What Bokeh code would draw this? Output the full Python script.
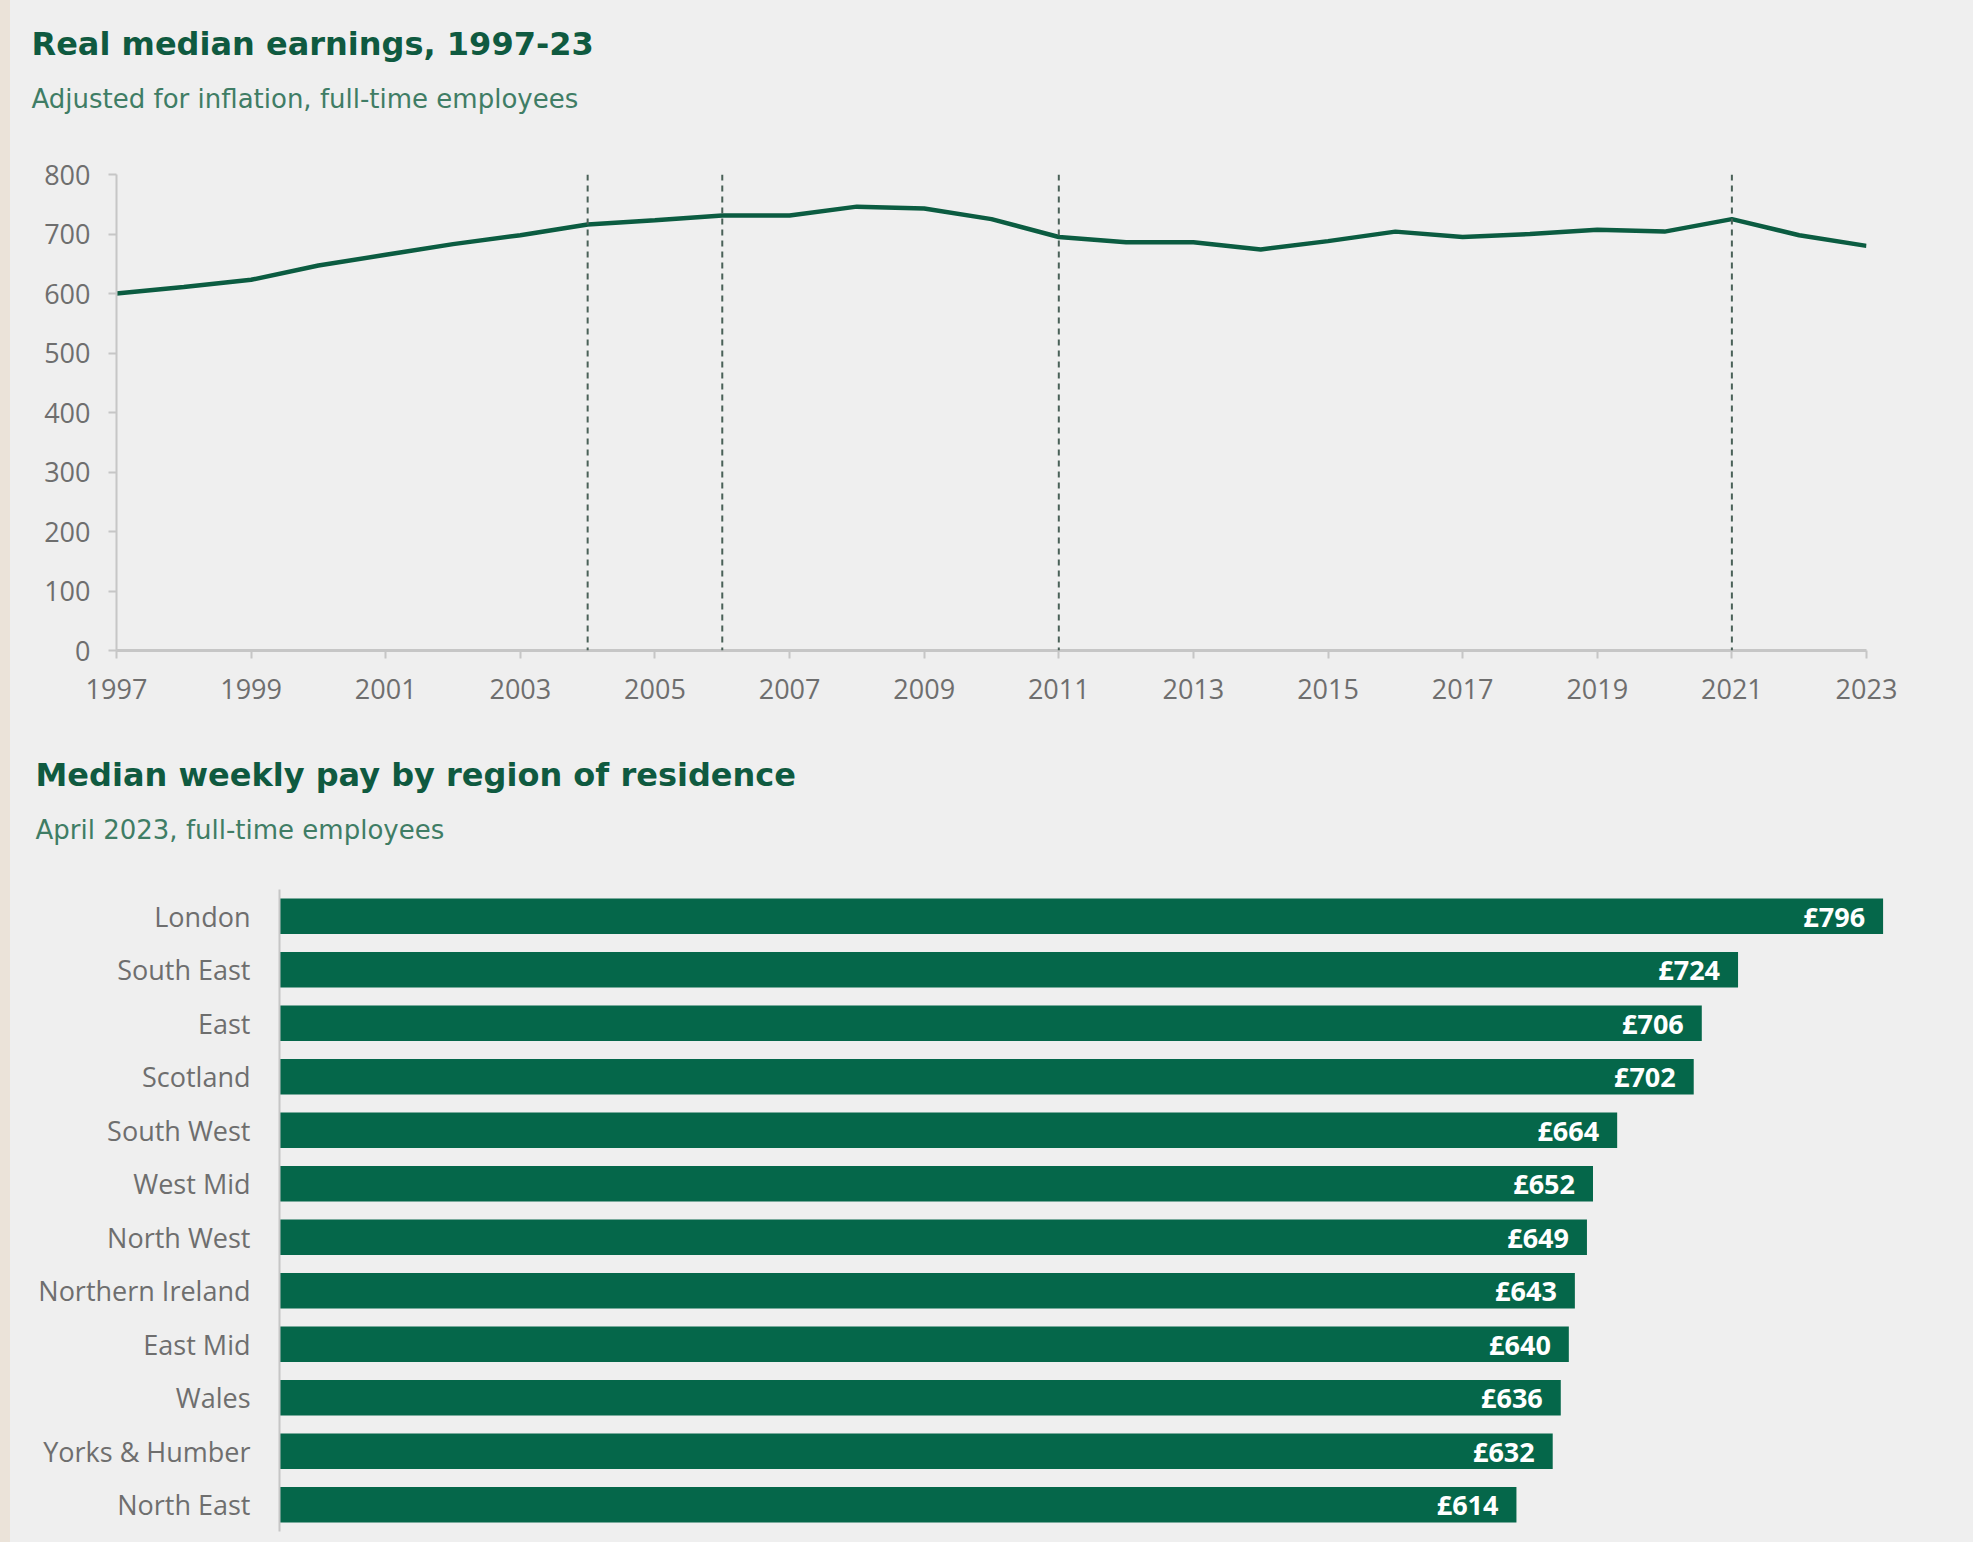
from bokeh.plotting import figure
from bokeh.layouts import column
from bokeh.models import Range1d, FactorRange, FixedTicker, Label, Span
from bokeh.embed import file_html
from bokeh.resources import INLINE
from bokeh.core.properties import value

# ---------------- data ----------------
years = list(range(1997, 2024))
earnings = [600, 611, 623, 647, 665, 683, 698, 716, 723, 731, 731, 746, 743, 725,
            695, 686, 686, 674, 688, 704, 695, 700, 707, 704, 725, 698, 680]
event_years = [2004, 2006, 2011, 2021]
x_ticks = list(range(1997, 2024, 2))
y_ticks = list(range(0, 801, 100))

regions = ["London", "South East", "East", "Scotland", "South West", "West Mid",
           "North West", "Northern Ireland", "East Mid", "Wales", "Yorks & Humber", "North East"]
pay = [796, 724, 706, 702, 664, 652, 649, 643, 640, 636, 632, 614]
pay_labels = ["£%d" % v for v in pay]

title1 = "Real median earnings, 1997-23"
subtitle1 = "Adjusted for inflation, full-time employees"
title2 = "Median weekly pay by region of residence"
subtitle2 = "April 2023, full-time employees"

# ---------------- style ----------------
BG = "#efefef"
STRIP = "#ebe3d9"
GREEN = "#0b5c41"
BAR = "#05674a"
TITLE_C = "#0f5a40"
SUB_C = "#3f7d65"
TICK_C = "#6e6e6e"
AXIS_C = "#c6c6c6"
TFONT = "DejaVu Sans"
LFONT = "Open Sans"

STRIP_W = 10
W = 1973 - STRIP_W
HH1 = 130          # header 1
H1 = 600           # line chart
HH2 = 130          # header 2
H2 = 1542 - HH1 - H1 - HH2


def no_align(p):
    try:
        p.frame_align = False
    except Exception:
        pass


def header(h, title, subtitle, tx, ty, sy):
    hp = figure(width=W, height=h, x_range=Range1d(0, W), y_range=Range1d(h, 0),
                x_axis_location=None, y_axis_location=None,
                output_backend="svg", toolbar_location=None,
                min_border_left=0, min_border_right=0, min_border_top=0, min_border_bottom=0)
    hp.background_fill_color = BG
    hp.border_fill_color = BG
    hp.outline_line_color = None
    hp.xgrid.visible = False
    hp.ygrid.visible = False
    hp.add_layout(Label(x=tx, y=ty, text=title, text_font=TFONT, text_font_style="bold",
                        text_font_size="32px", text_color=TITLE_C, text_baseline="middle"))
    hp.add_layout(Label(x=tx, y=sy, text=subtitle, text_font=TFONT,
                        text_font_size="26px", text_color=SUB_C, text_baseline="middle"))
    no_align(hp)
    return hp


h1 = header(HH1, title1, subtitle1, 31 - STRIP_W, 43, 98)

# ---------------- line chart ----------------
p1 = figure(width=W, height=H1, x_range=Range1d(1997, 2023), y_range=Range1d(0, 800),
            output_backend="svg", toolbar_location=None,
            min_border_left=116 - STRIP_W, min_border_right=107,
            min_border_top=44, min_border_bottom=80)
no_align(p1)
p1.background_fill_color = BG
p1.border_fill_color = BG
p1.outline_line_color = None
p1.xgrid.visible = False
p1.ygrid.visible = False

for yr in event_years:
    p1.add_layout(Span(location=yr, dimension="height", line_color="#4a6158",
                       line_width=2, line_dash="6 5"))

p1.line(years, earnings, line_width=4.5, line_color=GREEN)

p1.xaxis.ticker = FixedTicker(ticks=x_ticks)
p1.yaxis.ticker = FixedTicker(ticks=y_ticks)
for ax, lw in ((p1.xaxis, 3), (p1.yaxis, 2)):
    ax.axis_line_color = AXIS_C
    ax.axis_line_width = lw
    ax.major_tick_line_color = AXIS_C
    ax.major_tick_line_width = 2
    ax.major_tick_out = 8
    ax.major_tick_in = 0
    ax.minor_tick_line_color = None
    ax.major_label_text_color = TICK_C
    ax.major_label_text_font = LFONT
    ax.major_label_text_font_size = "27px"
p1.yaxis.major_label_standoff = 18
p1.xaxis.major_label_standoff = 20

h2 = header(HH2, title2, subtitle2, 35 - STRIP_W, 44, 99)

# ---------------- bar chart ----------------
p2 = figure(width=W, height=H2, y_range=FactorRange(factors=regions[::-1]),
            x_range=Range1d(0, 824), x_axis_location=None,
            output_backend="svg", toolbar_location=None,
            min_border_left=279 - STRIP_W, min_border_right=34,
            min_border_top=29, min_border_bottom=11)
no_align(p2)
p2.background_fill_color = BG
p2.border_fill_color = BG
p2.outline_line_color = None
p2.xgrid.visible = False
p2.ygrid.visible = False

p2.hbar(y=regions, right=pay, left=0, height=0.66, fill_color=BAR, line_color=None)
p2.text(x=pay, y=regions, text=pay_labels, x_offset=-18, text_align="right",
        text_baseline="middle", text_color="white", text_font=value(LFONT),
        text_font_style="bold", text_font_size="27px")

p2.yaxis.axis_line_color = AXIS_C
p2.yaxis.axis_line_width = 2
p2.yaxis.major_tick_line_color = None
p2.yaxis.minor_tick_line_color = None
p2.yaxis.major_label_standoff = 23
p2.yaxis.major_label_text_color = TICK_C
p2.yaxis.major_label_text_font = LFONT
p2.yaxis.major_label_text_font_size = "27px"

layout = column(h1, p1, h2, p2, spacing=0,
                styles={"background-color": BG, "border-left": "%dpx solid %s" % (STRIP_W, STRIP)})
open("out.html", "w").write(file_html(layout, INLINE))
